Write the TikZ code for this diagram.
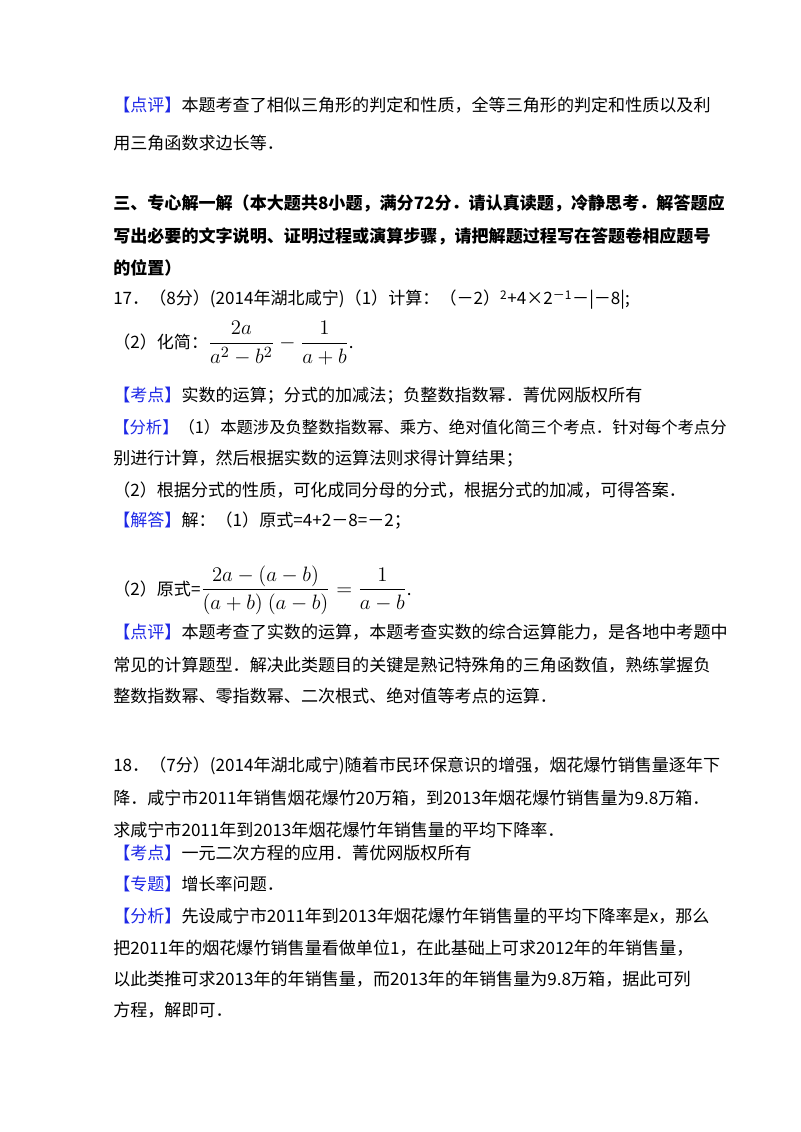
\documentclass[tikz,border=0pt]{standalone}
\usepackage{amsmath}
\usepackage{fontspec}
\setmainfont{Noto Sans CJK SC}
\definecolor{lblue}{RGB}{30,40,230}
\newcommand{\lbl}[1]{\textcolor{lblue}{【#1】}}
\newcommand{\myfrac}[1]{\scalebox{1.3}{$\displaystyle #1$}}
\begin{document}
\begin{tikzpicture}[x=0.75pt,y=-0.75pt,every node/.style={anchor=west,inner sep=0pt,font=\fontsize{12.8}{15}\selectfont}]
\useasboundingbox (0,0) rectangle (800,1132);
\node (l1) at (113,105) {\lbl{点评}本题考查了相似三角形的判定和性质，全等三角形的判定和性质以及利};
\node (l2) at (113,143) {用三角函数求边长等．};
\node (l3) at (113,203) {\bfseries 三、专心解一解（本大题共8小题，满分72分．请认真读题，冷静思考．解答题应};
\node (l4) at (113,236) {\bfseries 写出必要的文字说明、证明过程或演算步骤，请把解题过程写在答题卷相应题号};
\node (l5) at (113,268) {\bfseries 的位置）};
\node (l6) at (113,300) {17．（8分）(2014年湖北咸宁)（1）计算：（－2）\textsuperscript{2}+4×2\textsuperscript{－1}－|－8|;};
\node (l7) at (113,343) {（2）化简：\myfrac{\frac{2a}{a^2-b^2}-\frac{1}{a+b}}.};
\node (l8) at (113,396) {\lbl{考点}实数的运算；分式的加减法；负整数指数幂．菁优网版权所有};
\node (l9) at (113,427) {\resizebox{460pt}{!}{\lbl{分析}（1）本题涉及负整数指数幂、乘方、绝对值化简三个考点．针对每个考点分}};
\node (l10) at (113,459) {别进行计算，然后根据实数的运算法则求得计算结果；};
\node (l11) at (113,490) {（2）根据分式的性质，可化成同分母的分式，根据分式的加减，可得答案．};
\node (l12) at (113,521) {\lbl{解答}解：（1）原式=4+2－8=－2；};
\node (l13) at (113,590) {（2）原式=\myfrac{\frac{2a-(a-b)}{(a+b)\ (a-b)}=\frac{1}{a-b}}.};
\node (l14) at (113,632) {\lbl{点评}本题考查了实数的运算，本题考查实数的综合运算能力，是各地中考题中};
\node (l15) at (113,665) {常见的计算题型．解决此类题目的关键是熟记特殊角的三角函数值，熟练掌握负};
\node (l16) at (113,696) {整数指数幂、零指数幂、二次根式、绝对值等考点的运算．};
\node (l17) at (113,766) {18．（7分）(2014年湖北咸宁)随着市民环保意识的增强，烟花爆竹销售量逐年下};
\node (l18) at (113,798) {降．咸宁市2011年销售烟花爆竹20万箱，到2013年烟花爆竹销售量为9.8万箱．};
\node (l19) at (113,830) {求咸宁市2011年到2013年烟花爆竹年销售量的平均下降率．};
\node (l20) at (113,853) {\lbl{考点}一元二次方程的应用．菁优网版权所有};
\node (l21) at (113,884) {\lbl{专题}增长率问题．};
\node (l22) at (113,916) {\lbl{分析}先设咸宁市2011年到2013年烟花爆竹年销售量的平均下降率是x，那么};
\node (l23) at (113,948) {把2011年的烟花爆竹销售量看做单位1，在此基础上可求2012年的年销售量，};
\node (l24) at (113,979) {以此类推可求2013年的年销售量，而2013年的年销售量为9.8万箱，据此可列};
\node (l25) at (113,1010) {方程，解即可．};
\end{tikzpicture}
\end{document}
